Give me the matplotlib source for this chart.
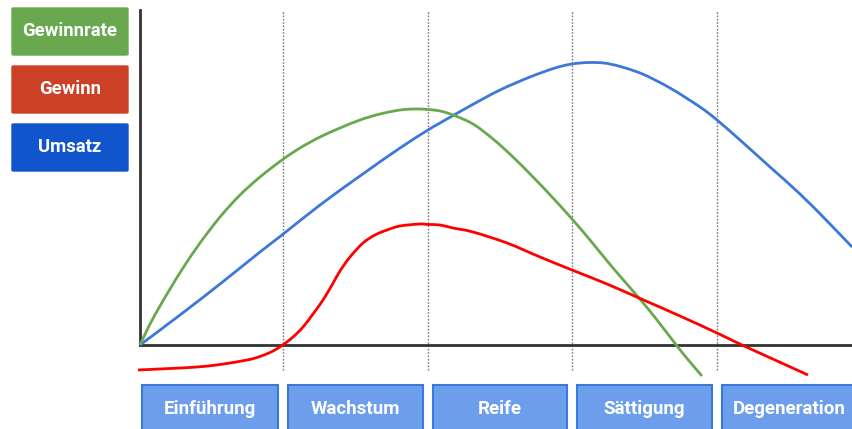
import matplotlib
matplotlib.use("Agg")
import matplotlib.pyplot as plt
from matplotlib.patches import Rectangle, FancyBboxPatch, PathPatch
from matplotlib.path import Path

plt.rcParams['font.family'] = ['Roboto', 'DejaVu Sans']

# Time axis runs 0..712, value axis 0..335 (arbitrary units)
phases = ["Einführung", "Wachstum", "Reife", "Sättigung", "Degeneration"]
phase_edges = [0, 143, 288, 432, 577, 722]

umsatz_x = [0, 40, 80, 120, 142, 180, 220, 260, 288, 300, 330, 360, 390, 415,
            432, 450, 470, 500, 530, 560, 577, 600, 630, 660, 690, 712]
umsatz_y = [0, 30, 61, 93, 110, 140, 169, 197, 215, 222, 239, 255, 268, 277,
            281, 282.5, 281, 272, 257, 238, 225, 205, 178, 151, 121, 98]

rate_x = [0, 10, 20, 30, 43, 60, 80, 100, 120, 142, 160, 180, 200, 220, 240,
          260, 275, 288, 300, 313, 333, 353, 373, 393, 413, 432, 450, 473, 499,
          517, 537, 550, 562]
rate_y = [0, 21, 39, 56, 77, 102, 128, 150, 168, 185, 197, 208, 217, 225, 231,
          235, 236, 235.5, 234, 230, 221, 206, 188, 168, 147, 126, 105, 77, 47,
          25, -1, -17, -31]

gewinn_x = [-2, 30, 57, 80, 107, 120, 132, 142, 153, 163, 173, 183, 192, 200,
            210, 223, 235, 247, 260, 280, 288, 300, 313, 333, 367, 400, 432,
            467, 499, 540, 577, 602, 635, 668]
gewinn_y = [-25, -23.5, -22, -19.5, -15, -11.5, -6.5, -0.5, 8, 18, 31, 45, 60,
            74, 88, 102, 110, 115, 119, 121, 120.5, 120, 117, 113, 102, 88, 75,
            61, 47, 29, 12, 0, -15, -30]

legend_labels = ["Gewinnrate", "Gewinn", "Umsatz"]
legend_colors = ["#6aa84f", "#cc4125", "#1155cc"]


def smooth_path(xs, ys, tension=1 / 6):
    """Cubic Bezier path through the points (Catmull-Rom style tangents)."""
    pts = list(zip(xs, ys))
    verts = [pts[0]]
    codes = [Path.MOVETO]
    n = len(pts)
    for i in range(n - 1):
        p0 = pts[i - 1] if i > 0 else pts[i]
        p1 = pts[i]
        p2 = pts[i + 1]
        p3 = pts[i + 2] if i + 2 < n else pts[i + 1]
        c1 = (p1[0] + (p2[0] - p0[0]) * tension, p1[1] + (p2[1] - p0[1]) * tension)
        c2 = (p2[0] - (p3[0] - p1[0]) * tension, p2[1] - (p3[1] - p1[1]) * tension)
        verts += [c1, c2, p2]
        codes += [Path.CURVE4] * 3
    return Path(verts, codes)


W, H = 852, 429
fig = plt.figure(figsize=(W / 100, H / 100), dpi=100)
ax = fig.add_axes([140 / W, (H - 380) / H, 712 / W, 370 / H])
ax.set_xlim(0, 712)
ax.set_ylim(-35, 335)
ax.set_xticks([])
ax.set_yticks([])
for s in ("top", "right"):
    ax.spines[s].set_visible(False)
ax.spines["left"].set_bounds(0, 335)
ax.spines["bottom"].set_position(("data", 0))
for s in ("left", "bottom"):
    ax.spines[s].set_linewidth(2)
    ax.spines[s].set_color("#333333")
    ax.spines[s].set_zorder(3)

# phase separators
ax.vlines(phase_edges[1:-1], -25, 335, colors="#777777", linestyles=(0, (1.2, 1.2)),
          linewidth=1, zorder=1)

for xs, ys, col in ((umsatz_x, umsatz_y, "#3c78d8"),
                    (rate_x, rate_y, "#6aa84f"),
                    (gewinn_x, gewinn_y, "#ff0000")):
    ax.add_patch(PathPatch(smooth_path(xs, ys), facecolor="none", edgecolor=col,
                           lw=2, clip_on=False, zorder=4))

# phase boxes below the axis
for i, name in enumerate(phases):
    x0 = phase_edges[i] + (2 if i == 0 else 4.5)
    x1 = phase_edges[i + 1] - 5.5
    rect = Rectangle((x0, -88), x1 - x0, 48, facecolor="#6d9eeb",
                     edgecolor="#3c78d8", lw=1.5, clip_on=False, zorder=2)
    ax.add_patch(rect)
    ax.text((x0 + x1) / 2, -64, name, ha="center", va="center", color="white",
            fontsize=13.5, fontweight="bold", clip_on=False)

# legend boxes on the left
tops = [8, 66, 124]
for lab, col, t in zip(legend_labels, legend_colors, tops):
    x0, x1 = 12 / W, 128 / W
    y1 = 1 - t / H
    y0 = 1 - (t + 47) / H
    box = FancyBboxPatch((x0, y0), x1 - x0, y1 - y0,
                         boxstyle="round,pad=0,rounding_size=0.002",
                         transform=fig.transFigure, facecolor=col,
                         edgecolor=col, lw=1)
    fig.patches.append(box)
    fig.text((x0 + x1) / 2, (y0 + y1) / 2, lab, ha="center", va="center",
             color="white", fontsize=13.3, fontweight="bold")

fig.savefig("out.png", dpi=100)
